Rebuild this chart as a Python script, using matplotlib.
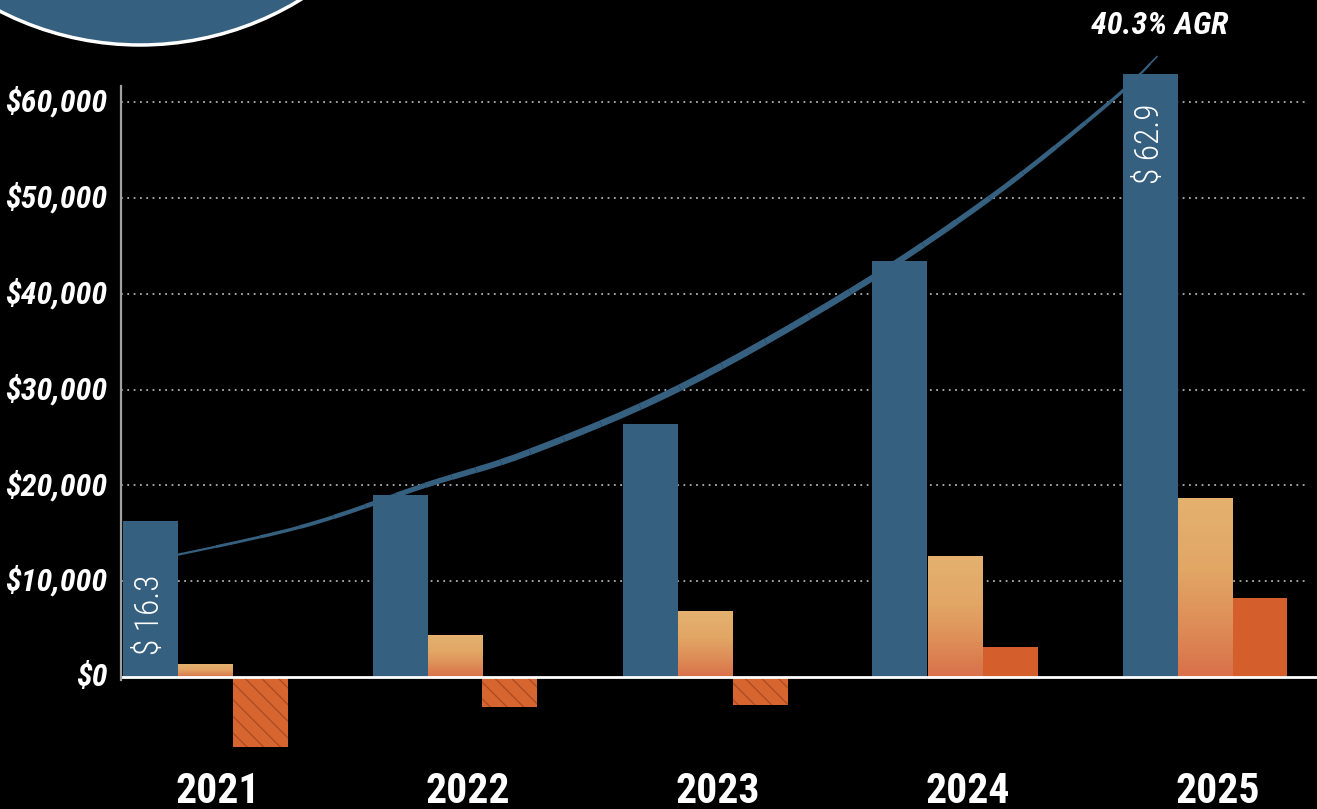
import matplotlib
matplotlib.use("Agg")
import matplotlib.pyplot as plt
import numpy as np
from matplotlib import font_manager
from matplotlib.patches import Ellipse, PathPatch
from matplotlib.path import Path
from matplotlib.colors import LinearSegmentedColormap

# pick a narrow sans if one is installed
fonts = font_manager.fontManager.ttflist
names = {f.name for f in fonts}
narrow = None
for cand in ['Liberation Sans Narrow', 'Roboto Condensed', 'Open Sans Condensed',
             'DejaVu Sans Condensed', 'Noto Sans Condensed']:
    if cand in names:
        narrow = cand
        break
stretch = 'normal'
if narrow is None:
    for f in fonts:
        if f.stretch in ('condensed', 'semi-condensed') or 'Narrow' in f.name or 'Condensed' in f.name:
            narrow = f.name
            stretch = f.stretch
            break
if narrow is None:
    narrow = 'Liberation Sans'
plt.rcParams['font.family'] = [narrow, 'Liberation Sans', 'DejaVu Sans']
plt.rcParams['font.stretch'] = stretch
plt.rcParams['hatch.color'] = '#ad4a22'
plt.rcParams['hatch.linewidth'] = 0.9

# data
years = ['2021', '2022', '2023', '2024', '2025']
series_a = [16300, 19000, 26400, 43400, 62900]   # blue
series_b = [1300, 4300, 6800, 12600, 18600]      # light orange
series_c = [-7300, -3100, -2900, 3100, 8300]     # dark orange
yticks = [0, 10000, 20000, 30000, 40000, 50000, 60000]
bar_labels = {0: '$ 16.3', 4: '$ 62.9'}
# trend curve (x in group units, y in dollars)
trend_x = [-0.23, 0.38, 0.88, 1.30, 1.90, 2.58, 3.14, 3.62, 3.81]
trend_y = [12100, 15650, 20000, 23500, 30200, 40200, 50000, 60000, 64800]
growth_text = '40.3% AGR'

BLUE = '#36607f'
DARK = '#d45f2d'

fig = plt.figure(figsize=(13.17, 8.09), dpi=100, facecolor='black')
ax = fig.add_axes([0, 0, 1, 1])
ax.set_facecolor('black')
for s in ax.spines.values():
    s.set_visible(False)
ax.set_xticks([])
ax.set_yticks([])

x0, x1 = -0.82, 4.448
y0, y1 = -13770, 70650

w = 0.22
xs = np.arange(len(years))

# grid
for t in yticks[1:]:
    ax.plot([-0.336, 4.40], [t, t], color='#b0b0b0', lw=1.3, ls=(0, (1, 2.5)), zorder=1)

ax.bar(xs - w, series_a, width=w, color=BLUE, zorder=3)

bars_b = ax.bar(xs, series_b, width=w, color='#e2a866', zorder=3)
cmap = LinearSegmentedColormap.from_list('og', [(0, '#d9704a'), (0.3, '#de8e58'),
                                                 (0.6, '#e2a665'), (1, '#e4b16f')])
grad = np.linspace(0, 1, 256).reshape(-1, 1)
for b in bars_b:
    bx, by = b.get_x(), b.get_y()
    ax.imshow(grad, extent=[bx, bx + b.get_width(), by, by + b.get_height()],
              origin='lower', aspect='auto', cmap=cmap, zorder=3.5)

for i, v in enumerate(series_c):
    if v < 0:
        ax.bar(xs[i] + w, v, width=w, color='#d6652f', hatch='\\\\', zorder=3)
    else:
        ax.bar(xs[i] + w, v, width=w, color=DARK, zorder=3)

ax.set_xlim(x0, x1)
ax.set_ylim(y0, y1)

# axes lines
ax.plot([-0.336, x1], [0, 0], color='white', lw=2, zorder=4, solid_capstyle='butt')
ax.plot([-0.336, -0.336], [-300, 61700], color='#a0a0a0', lw=1.6, zorder=4)


def split_bezier(b, t):
    # de Casteljau split of a cubic into two cubics
    a01 = b[0] + (b[1] - b[0]) * t
    a12 = b[1] + (b[2] - b[1]) * t
    a23 = b[2] + (b[3] - b[2]) * t
    a012 = a01 + (a12 - a01) * t
    a123 = a12 + (a23 - a12) * t
    m = a012 + (a123 - a012) * t
    return [b[0], a01, a012, m], [m, a123, a23, b[3]]


# trend curve: smooth bezier pieces through the read points, thicker in the middle
P = np.column_stack([trend_x, trend_y]).astype(float)
n = len(P)
pieces = []
for k in range(n - 1):
    p0 = P[max(k - 1, 0)]
    p1 = P[k]
    p2 = P[k + 1]
    p3 = P[min(k + 2, n - 1)]
    seg = [p1, p1 + (p2 - p0) / 6.0, p2 - (p3 - p1) / 6.0, p2]
    a, rest = split_bezier(seg, 0.25)
    b, rest = split_bezier(rest, 1 / 3)
    c, d = split_bezier(rest, 0.5)
    pieces += [a, b, c, d]
npc = len(pieces)
for j, bz in enumerate(pieces):
    frac = (j + 0.5) / npc
    lw = 0.9 + 4.0 * np.sin(np.pi * frac) ** 0.9
    path = Path(bz, [Path.MOVETO, Path.CURVE4, Path.CURVE4, Path.CURVE4])
    ax.add_patch(PathPatch(path, facecolor='none', edgecolor=BLUE, lw=lw,
                           capstyle='butt', joinstyle='round', zorder=5))

# labels
for t in yticks:
    ax.text(-0.39, t, f'${t:,}', ha='right', va='center', color='white',
            fontsize=23, fontweight='bold', fontstyle='italic')
for i, yr in enumerate(years):
    ax.text(xs[i] + 0.05, -11900, yr, ha='center', va='center', color='white',
            fontsize=30, fontweight='bold')

ax.text(xs[0] - w, 6500, bar_labels[0], rotation=90, ha='center', va='center',
        color='white', fontsize=24, fontweight='light')
ax.text(xs[4] - w, 55700, bar_labels[4], rotation=90, ha='center', va='center',
        color='white', fontsize=24, fontweight='light')

ax.text(3.82, 68000, growth_text, ha='center', va='center', color='white',
        fontsize=23, fontweight='bold', fontstyle='italic')

# decorative circle top-left
circ = Ellipse((140 / 1317, 1 + 262 / 809), 2 * 307 / 1317, 2 * 307 / 809,
               transform=fig.transFigure, facecolor=BLUE, edgecolor='white', lw=2.5)
fig.patches.append(circ)

fig.savefig('out.png', dpi=100, facecolor='black')
